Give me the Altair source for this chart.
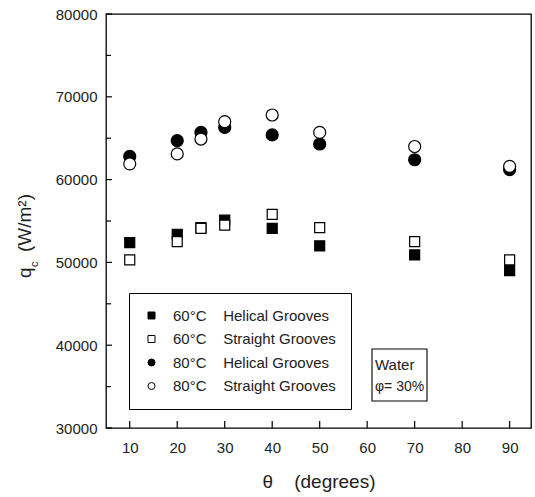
import altair as alt
import pandas as pd

# Inclination angle of the tube (degrees)
theta = [10, 20, 25, 30, 40, 50, 70, 90]

# Condensation heat flux q_c (W/m^2) for each series
helical_60 = [52400, 53400, 54200, 55100, 54100, 52000, 50900, 49000]
straight_60 = [50300, 52500, 54100, 54500, 55800, 54200, 52500, 50300]
helical_80 = [62800, 64700, 65700, 66300, 65400, 64300, 62400, 61200]
straight_80 = [61900, 63100, 64900, 67000, 67800, 65700, 64000, 61600]

NB = "\u00a0"
series_names = [
    "60°C" + NB * 4 + "Helical Grooves",
    "60°C" + NB * 4 + "Straight Grooves",
    "80°C" + NB * 4 + "Helical Grooves",
    "80°C" + NB * 4 + "Straight Grooves",
]
series_values = [helical_60, straight_60, helical_80, straight_80]
series_temps = [60, 60, 80, 80]
series_shapes = ["square", "square", "circle", "circle"]
series_fills = ["black", "white", "black", "white"]
series_strokes = ["black", "black", "black", "black"]

y_ticks_major = [30000, 40000, 50000, 60000, 70000, 80000]
y_ticks_minor = [35000, 45000, 55000, 65000, 75000]
x_ticks = [10, 20, 30, 40, 50, 60, 70, 80, 90]

W, H = 425, 414

rows = []
for name, temp, vals in zip(series_names, series_temps, series_values):
    for t, v in zip(theta, vals):
        rows.append({"theta": t, "q": v, "series": name, "temp": temp})
df = pd.DataFrame(rows)

x_scale = alt.Scale(domain=[5, 94.5], nice=False, zero=False)
y_scale = alt.Scale(domain=[30000, 80000], nice=False, zero=False)

legend = alt.Legend(
    title=None,
    orient="none",
    legendX=23,
    legendY=279,
    strokeColor="black",
    fillColor="white",
    padding=15,
    rowPadding=7.5,
    labelFontSize=15,
    labelColor="#222",
    labelOffset=14,
    labelLimit=400,
    symbolSize=49,
    symbolStrokeWidth=1,
)

x_enc = alt.X(
    "theta:Q",
    scale=x_scale,
    axis=alt.Axis(
        values=x_ticks,
        ticks=False,
        domain=False,
        grid=False,
        labelPadding=12,
        labelFontSize=15,
        title="θ" + NB * 4 + "(degrees)",
        titleFontSize=19,
        titleFontWeight="normal",
        titlePadding=17,
    ),
)
y_enc = alt.Y(
    "q:Q",
    scale=y_scale,
    axis=alt.Axis(
        values=y_ticks_major,
        format="d",
        ticks=False,
        domain=False,
        grid=False,
        labelPadding=9,
        labelFontSize=15,
        title=None,
    ),
)
shape_enc = alt.Shape(
    "series:N",
    scale=alt.Scale(domain=series_names, range=series_shapes),
    legend=legend,
)
fill_enc = alt.Fill(
    "series:N",
    scale=alt.Scale(domain=series_names, range=series_fills),
    legend=legend,
)
stroke_enc = alt.Stroke(
    "series:N",
    scale=alt.Scale(domain=series_names, range=series_strokes),
    legend=legend,
)


def series_points(temp, size):
    return alt.Chart(df).transform_filter(
        alt.datum.temp == temp
    ).mark_point(
        filled=True, strokeWidth=1.2, opacity=1, fillOpacity=1, size=size
    ).encode(x=x_enc, y=y_enc, shape=shape_enc, fill=fill_enc, stroke=stroke_enc)


squares = series_points(60, 100)
circles = series_points(80, 144)

# Inward-pointing tick marks
y_major = alt.Chart(pd.DataFrame({"v": y_ticks_major})).mark_rule(
    color="black", strokeWidth=1.2
).encode(y=alt.Y("v:Q", scale=y_scale), x=alt.value(0), x2=alt.value(6))
y_minor = alt.Chart(pd.DataFrame({"v": y_ticks_minor})).mark_rule(
    color="black", strokeWidth=1.2
).encode(y=alt.Y("v:Q", scale=y_scale), x=alt.value(0), x2=alt.value(5))
x_tick_rules = alt.Chart(pd.DataFrame({"t": x_ticks})).mark_rule(
    color="black", strokeWidth=1.2
).encode(x=alt.X("t:Q", scale=x_scale), y=alt.value(H), y2=alt.value(H - 7))

# Annotation box with the working fluid and filling ratio
one = pd.DataFrame({"a": [0]})
box = alt.Chart(one).mark_rect(
    fill="white", stroke="black", strokeWidth=1.1
).encode(x=alt.value(266), x2=alt.value(321), y=alt.value(335), y2=alt.value(387))
water = alt.Chart(one).mark_text(
    text="Water", align="left", baseline="middle", fontSize=15, color="#222"
).encode(x=alt.value(269), y=alt.value(351))
phi = alt.Chart(one).mark_text(
    text="φ= 30%", align="left", baseline="middle", fontSize=14, color="#222"
).encode(x=alt.value(269), y=alt.value(373))

# Y-axis title with subscript
yq = alt.Chart(one).mark_text(
    text="q", angle=270, align="left", baseline="alphabetic", fontSize=19, color="#222"
).encode(x=alt.value(-75), y=alt.value(264))
yc = alt.Chart(one).mark_text(
    text="c", angle=270, align="left", baseline="alphabetic", fontSize=11, color="#222"
).encode(x=alt.value(-68), y=alt.value(253))
yunit = alt.Chart(one).mark_text(
    text="(W/m²)", angle=270, align="left", baseline="alphabetic", fontSize=19, color="#222"
).encode(x=alt.value(-75), y=alt.value(238))

chart = alt.layer(
    y_major, y_minor, x_tick_rules, squares, circles, box, water, phi, yq, yc, yunit
).properties(
    width=W,
    height=H,
    autosize=alt.AutoSizeParams(type="none"),
    padding={"left": 106, "top": 14, "right": 4, "bottom": 69},
).configure(
    font="Liberation Sans",
    view=alt.ViewConfig(stroke="black", strokeWidth=1.3),
    axis=alt.AxisConfig(labelColor="#222", titleColor="#222"),
)

chart.save("out.html", embed_options={"renderer": "svg", "actions": False})
